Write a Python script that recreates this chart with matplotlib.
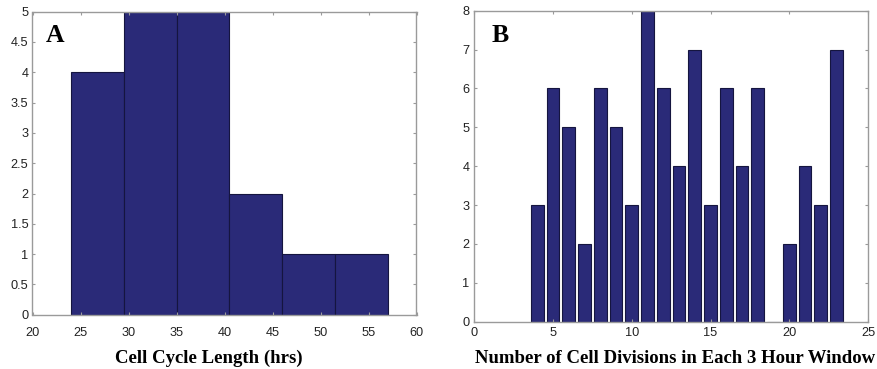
import matplotlib
matplotlib.use("Agg")
import matplotlib.pyplot as plt
import numpy as np

# Panel A data: histogram of cell cycle length
a_edges = [24, 29.5, 35, 40.5, 46, 51.5, 57]
a_counts = [4, 5, 5, 2, 1, 1]
a_xticks = [20, 25, 30, 35, 40, 45, 50, 55, 60]
a_yticks = [0, 0.5, 1, 1.5, 2, 2.5, 3, 3.5, 4, 4.5, 5]

# Panel B data: cell divisions per 3-hour window
b_x = [4, 5, 6, 7, 8, 9, 10, 11, 12, 13, 14, 15, 16, 17, 18, 19, 20, 21, 22, 23]
b_counts = [3, 6, 5, 2, 6, 5, 3, 8, 6, 4, 7, 3, 6, 4, 6, 0, 2, 4, 3, 7]
b_xticks = [0, 5, 10, 15, 20, 25]
b_yticks = [0, 1, 2, 3, 4, 5, 6, 7, 8]

W, H = 878, 369
fig = plt.figure(figsize=(W / 100, H / 100), dpi=100)

bar_color = "#2a2a78"
edge_color = "#15153f"
spine_color = "#9a9a9a"
sans = ["Liberation Sans", "DejaVu Sans"]
serif = ["Liberation Serif", "DejaVu Serif"]
label_font = dict(family=serif, weight="bold", size=13.5)


def px_axes(l, r, t, b):
    return fig.add_axes([l / W, 1 - b / H, (r - l) / W, (b - t) / H])


def style(ax, xpad, ypad):
    for s in ax.spines.values():
        s.set_color(spine_color)
        s.set_linewidth(1.0)
    ax.tick_params(direction="in", top=True, right=True, length=2.5,
                   color=spine_color, width=0.8, labelsize=9.2,
                   labelcolor="#222222")
    ax.tick_params(axis="x", pad=xpad)
    ax.tick_params(axis="y", pad=ypad)
    for lab in ax.get_xticklabels() + ax.get_yticklabels():
        lab.set_family(sans)


# Panel A
axA = px_axes(32.5, 416.5, 11.7, 314.7)
edges = np.array(a_edges)
axA.bar(edges[:-1], a_counts, width=np.diff(edges), align="edge",
        color=bar_color, edgecolor=edge_color, linewidth=0.8)
axA.set_xlim(20, 60)
axA.set_ylim(0, 5)
axA.set_xticks(a_xticks)
axA.set_yticks(a_yticks)
axA.set_yticklabels([("%g" % v) for v in a_yticks])
style(axA, xpad=9, ypad=3)
axA.set_xlabel("Cell Cycle Length (hrs)", va="baseline", **label_font)
axA.xaxis.set_label_coords(209 / W, 1 - 363 / H, transform=fig.transFigure)
fig.text(55 / W, 1 - 41.7 / H, "A", ha="center", va="baseline",
         family=serif, weight="bold", size=18.5)

# Panel B
axB = px_axes(474.3, 868, 10.7, 321.7)
axB.bar(b_x, b_counts, width=0.8, color=bar_color, edgecolor=edge_color, linewidth=0.8)
axB.set_xlim(0, 25)
axB.set_ylim(0, 8)
axB.set_xticks(b_xticks)
axB.set_yticks(b_yticks)
style(axB, xpad=4, ypad=3.5)
axB.set_xlabel("Number of Cell Divisions in Each 3 Hour Window", va="baseline", **label_font)
axB.xaxis.set_label_coords(675 / W, 1 - 363 / H, transform=fig.transFigure)
fig.text(500 / W, 1 - 42 / H, "B", ha="center", va="baseline",
         family=serif, weight="bold", size=18.5)

fig.savefig("out.png", dpi=100)
